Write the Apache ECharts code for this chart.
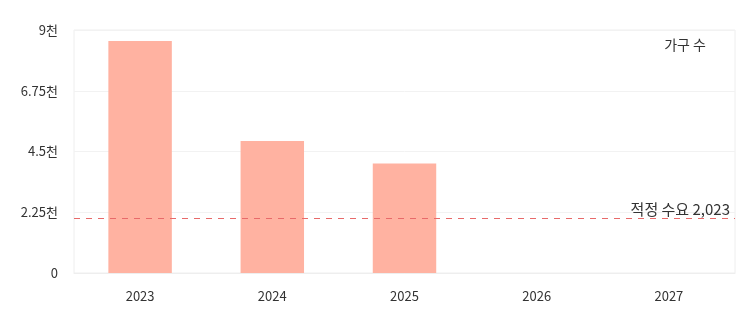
<!DOCTYPE html>
<html><head><meta charset="utf-8">
<script src="https://cdn.jsdelivr.net/npm/echarts@6/dist/echarts.min.js"></script>
<style>html,body{margin:0;padding:0;background:#fff}#c{width:748px;height:319px}</style>
</head><body><div id="c"></div>
<script>
const categories = ['2023','2024','2025','2026','2027'];
const households = [8590, 4890, 4060, null, null];
const demandValue = 2023;
const demandLabel = '적정 수요';
const seriesName = '가구 수';
const yTicks = [0, 2250, 4500, 6750, 9000];

const font = '"Noto Sans CJK KR", "Noto Sans", sans-serif';
const chart = echarts.init(document.getElementById('c'), null, {renderer:'canvas'});
chart.setOption({
  animation:false,
  textStyle:{fontFamily:font},
  title:{text:seriesName, right:37, top:33, textStyle:{fontSize:14, fontWeight:'normal', color:'#333', fontFamily:font}},
  grid:{left:74, right:13, top:30, bottom:46, show:true, borderColor:'#eeeeee', borderWidth:1},
  xAxis:{type:'category', data:categories,
    axisLine:{show:true, lineStyle:{color:'#eeeeee'}}, axisTick:{show:false},
    axisLabel:{color:'#333', fontSize:13, margin:17, fontFamily:font}},
  yAxis:{type:'value', min:yTicks[0], max:yTicks[yTicks.length-1], interval:2250,
    axisLine:{show:false}, axisTick:{show:false},
    splitLine:{lineStyle:{color:'#f2f2f2'}},
    axisLabel:{color:'#333', fontSize:13, margin:16, fontFamily:font,
      formatter:v=> v===0 ? '0' : (v/1000)+'천'}},
  series:[{name:seriesName, type:'bar', data:households, barWidth:'48%',
    itemStyle:{color:'#ffb2a1'},
    markLine:{symbol:'none', silent:true,
      lineStyle:{color:'#e86a6a', type:[6,6], width:1},
      label:{position:'insideEndTop', formatter:demandLabel+' '+demandValue.toLocaleString('en-US'), color:'#333', fontSize:15, fontFamily:font, distance:[0,2], padding:[0,5,0,0]},
      data:[{yAxis:demandValue}]}}]
});
</script></body></html>
